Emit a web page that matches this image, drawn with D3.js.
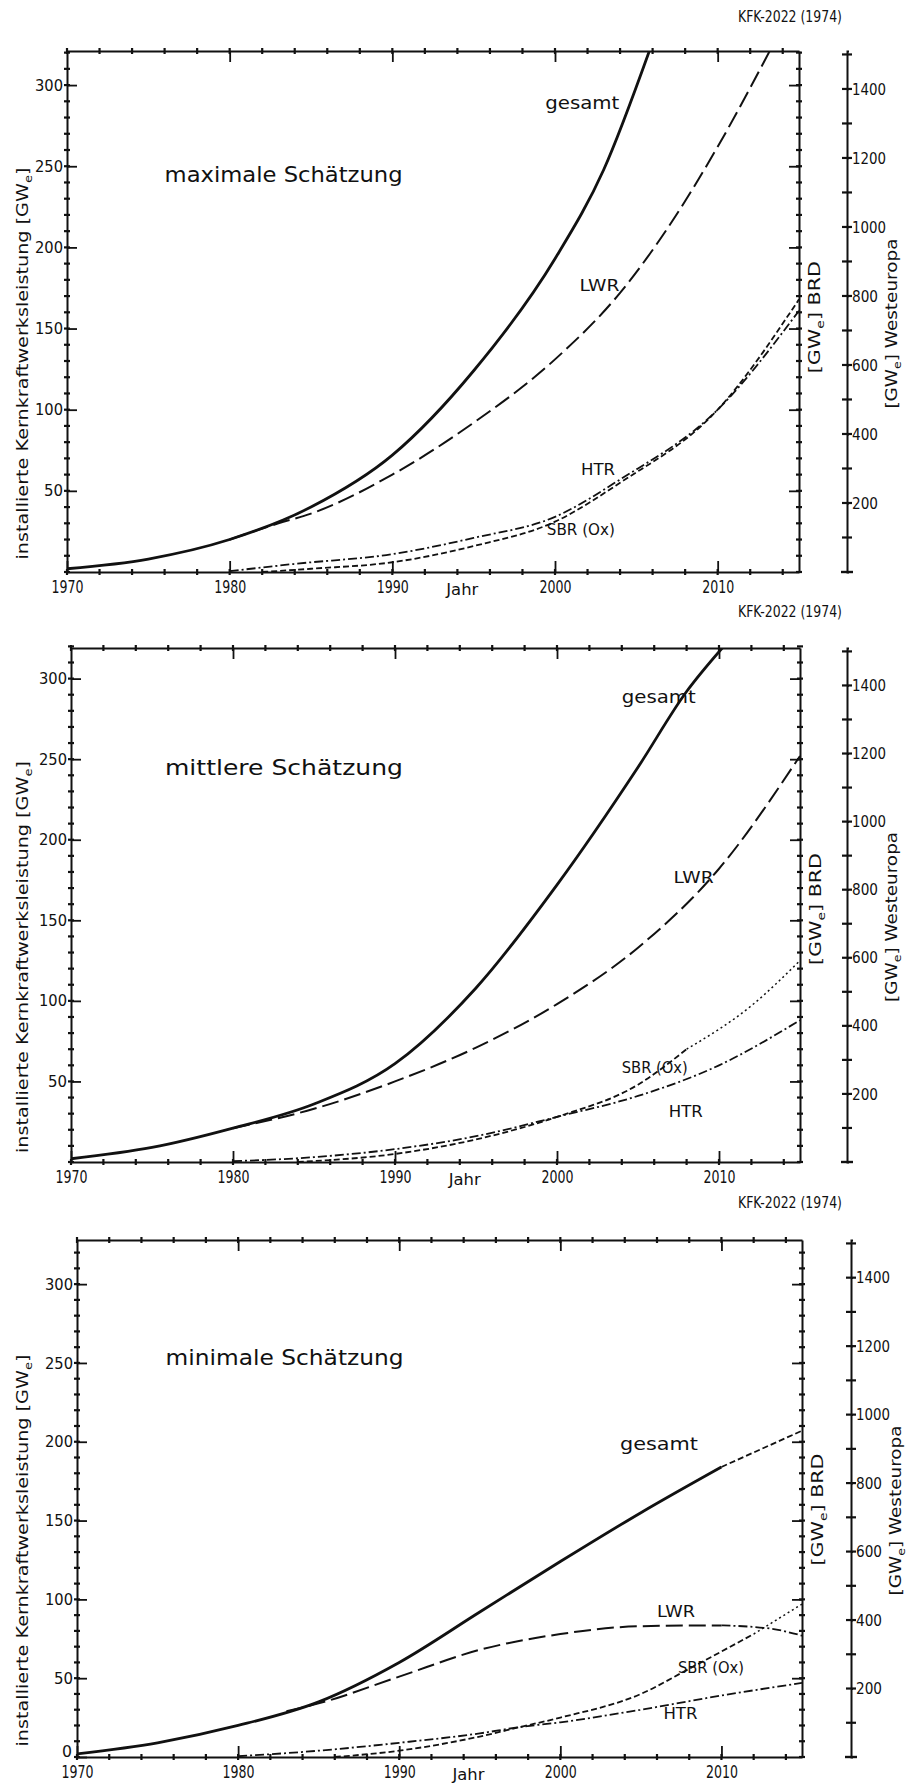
<!DOCTYPE html>
<html>
<head>
<meta charset="utf-8">
<script src="https://cdn.jsdelivr.net/npm/d3@7"></script>
<style>
  body { margin: 0; background: #fff; }
  svg text { fill: #111; font-family: "DejaVu Sans", sans-serif; }
  .domain { stroke: #111; stroke-width: 2; }
  .tick line { stroke: #111; stroke-width: 1.8; }
</style>
</head>
<body>
<div id="chart"></div>
<script>
// ticks
const yearTicks = [1970, 1980, 1990, 2000, 2010];
const yearMinor = d3.range(1970, 2016, 2);
const gweTicks = [50, 100, 150, 200, 250, 300];
const gweMinor = d3.range(0, 321, 10);
const westTicks = [200, 400, 600, 800, 1000, 1200, 1400];
const westMinor = d3.range(100, 1501, 100);

// maximale Schätzung  [Jahr, GWe]
const maxGesamt = [[1970, 2], [1975, 8], [1980, 20], [1985, 40], [1990, 72], [1995, 124], [2000, 193], [2003, 248], [2005.8, 321]];
const maxLWR = [[1980, 20], [1983, 30], [1985, 36], [1990, 60], [1995, 92], [2000, 131], [2004, 172], [2007, 213], [2010, 262], [2013.2, 321]];
const maxHTR = [[1980, 0.5], [1984, 5], [1990, 11], [1995, 21], [2000, 34], [2004, 57], [2010, 100], [2015, 161]];
const maxSBR = [[1982, 0], [1985, 2], [1990, 6], [1995, 16], [2000, 31], [2004, 55], [2010, 100], [2015, 168]];

// mittlere Schätzung
const midGesamt = [[1970, 2], [1975, 9], [1980, 21], [1985, 36], [1990, 61], [1995, 108], [2000, 172], [2005, 245], [2008, 292], [2010.2, 319]];
const midLWR = [[1980, 21], [1985, 33], [1990, 50], [1995, 71], [2000, 98], [2005, 133], [2010, 182], [2015, 252]];
const midSBR = [[1984, 0], [1990, 5], [1995, 14], [2000, 28], [2005, 48], [2008, 70]];
const midSBRend = [[2008, 70], [2012, 97], [2015, 125]];
const midHTR = [[1980, 0.5], [1985, 3], [1990, 8], [1995, 16], [2000, 28], [2005, 41], [2010, 60], [2015, 88]];

// minimale Schätzung
const minGesamt = [[1970, 2], [1975, 9], [1980, 20], [1985, 35], [1990, 60], [1995, 92], [2000, 124], [2005, 155], [2010, 184]];
const minGesamtEnd = [[2010, 184], [2015, 207]];
const minLWR = [[1983, 29], [1985, 34], [1990, 51], [1995, 68], [2000, 78], [2005, 83], [2010, 83.5]];
const minLWRend = [[2010, 83.5], [2013, 81.5], [2015, 77]];
const minSBR = [[1986, 0], [1990, 4], [1995, 13], [1997.5, 19], [2000, 25], [2005, 40], [2008, 56], [2012, 78]];
const minSBRend = [[2012, 78], [2015, 97]];
const minHTR = [[1980, 0.5], [1985, 4], [1990, 9], [1995, 15], [1997.5, 19], [2000, 22], [2005, 30], [2010, 39], [2015, 47]];

const SOLID = null, LONG = "17,6", SHORT = "6,3", DASHDOT = "9,3,2,3", DOT = "2,3";

const panels = [
  { top: 51, bottom: 572, left: 67, right: 799, yMax: 321, rx: 847, head: 22,
    title: "maximale Schätzung", titleAt: [1976, 240], zero: false,
    series: [[maxGesamt, SOLID, 2.8], [maxLWR, LONG, 2], [maxHTR, DASHDOT, 1.8], [maxSBR, SHORT, 1.8]],
    labels: [["gesamt", 1999.4, 285, 18, 74], ["LWR", 2001.5, 173, 16, 40], ["HTR", 2001.6, 60, 16, 34], ["SBR (Ox)", 1999.5, 23, 16, 68]] },
  { top: 648, bottom: 1162, left: 71, right: 800, yMax: 319, rx: 847, head: 617,
    title: "mittlere Schätzung", titleAt: [1975.8, 240], zero: false,
    series: [[midGesamt, SOLID, 2.8], [midLWR, LONG, 2], [midSBR, SHORT, 1.8], [midSBRend, DOT, 1.5], [midHTR, DASHDOT, 1.8]],
    labels: [["gesamt", 2004.0, 285, 18, 74], ["LWR", 2007.2, 173, 16, 40], ["SBR (Ox)", 2004.0, 55, 16, 66], ["HTR", 2006.9, 28, 16, 34]] },
  { top: 1240, bottom: 1757, left: 77, right: 802, yMax: 328, rx: 851, head: 1208,
    title: "minimale Schätzung", titleAt: [1975.5, 249], zero: true,
    series: [[minGesamt, SOLID, 2.8], [minGesamtEnd, SHORT, 1.8], [minLWR, LONG, 2], [minLWRend, DASHDOT, 1.8],
             [minSBR, SHORT, 1.8], [minSBRend, DOT, 1.5], [minHTR, DASHDOT, 1.8]],
    labels: [["gesamt", 2003.7, 195, 18, 78], ["LWR", 2006.0, 89, 16, 38], ["SBR (Ox)", 2007.3, 53, 16, 66], ["HTR", 2006.4, 24, 16, 34]] }
];

const svg = d3.select("#chart").append("svg")
  .attr("width", 911).attr("height", 1784);

function crosses(g, scale, vals, orient, pos, len) {
  // small cross marks along an axis line
  g.append("g").selectAll("line").data(vals).join("line")
    .attr("x1", d => orient == "h" ? scale(d) : pos - len)
    .attr("x2", d => orient == "h" ? scale(d) : pos + len)
    .attr("y1", d => orient == "h" ? pos - len : scale(d))
    .attr("y2", d => orient == "h" ? pos + len : scale(d))
    .attr("stroke", "#111").attr("stroke-width", 2.2);
}

function subE(t, before, after, size) {
  t.append("tspan").text(before);
  t.append("tspan").attr("font-size", size * 0.68).attr("dy", 4).text("e");
  t.append("tspan").attr("dy", -4).text(after);
}

panels.forEach((p, i) => {
  const g = svg.append("g");
  const x = d3.scaleLinear().domain([1970, 2015]).range([p.left, p.right]);
  const y = d3.scaleLinear().domain([0, p.yMax]).range([p.bottom, p.top]);
  const yR = d3.scaleLinear().domain([0, 1510]).range([p.bottom, p.top]);

  g.append("text").attr("x", 842).attr("y", p.head).attr("text-anchor", "end")
    .attr("font-size", 15).attr("textLength", 104).attr("lengthAdjust", "spacingAndGlyphs")
    .text("KFK-2022 (1974)");

  // bottom axis
  g.append("g").attr("transform", `translate(0,${p.bottom})`)
    .call(d3.axisBottom(x).tickValues(yearTicks).tickSizeInner(-11).tickSizeOuter(0).tickPadding(9).tickFormat(d3.format("d")))
    .call(a => a.selectAll("text").attr("font-size", 17).attr("textLength", 32).attr("lengthAdjust", "spacingAndGlyphs"));
  crosses(g, x, yearMinor, "h", p.bottom, 3);
  g.append("text").attr("x", x(1994.3)).attr("y", p.bottom + 23).attr("text-anchor", "middle")
    .attr("font-size", 16).attr("textLength", 32).attr("lengthAdjust", "spacingAndGlyphs").text("Jahr");

  // top axis
  g.append("g").attr("transform", `translate(0,${p.top})`)
    .call(d3.axisTop(x).tickValues(yearTicks.slice(1)).tickSizeInner(-11).tickSizeOuter(0).tickFormat(""));
  crosses(g, x, yearMinor, "h", p.top, 3);

  // left axis
  const lt = p.zero ? [0].concat(gweTicks) : gweTicks;
  g.append("g").attr("transform", `translate(${p.left},0)`)
    .call(d3.axisLeft(y).tickValues(lt).tickSizeInner(-10).tickSizeOuter(0).tickPadding(4))
    .call(a => a.selectAll("text").attr("font-size", 16).attr("textLength", d => d < 100 ? (d ? 19 : 10) : 28)
      .attr("lengthAdjust", "spacingAndGlyphs"))
    .call(a => a.selectAll(".tick text").filter(d => d === 0).attr("dy", "-0.05em").attr("x", -5));
  crosses(g, y, gweMinor, "v", p.left, 3);

  // right border
  g.append("g").attr("transform", `translate(${p.right},0)`)
    .call(d3.axisRight(y).tickValues(gweTicks).tickSizeInner(-10).tickSizeOuter(0).tickFormat(""));
  crosses(g, y, gweMinor, "v", p.right, 3);

  // Westeuropa axis
  g.append("g").attr("transform", `translate(${p.rx},0)`)
    .call(d3.axisRight(yR).tickValues(westTicks).tickSize(2).tickPadding(3).tickFormat(d3.format("d")))
    .call(a => a.selectAll("text").attr("font-size", 16).attr("textLength", d => d < 1000 ? 26 : 34)
      .attr("lengthAdjust", "spacingAndGlyphs"));
  crosses(g, yR, westMinor, "v", p.rx, 5);
  g.append("line").attr("x1", p.rx - 6).attr("x2", p.rx + 6)
    .attr("y1", yR(0)).attr("y2", yR(0)).attr("stroke", "#111").attr("stroke-width", 2.4);

  // axis titles
  const midY = (p.top + p.bottom) / 2 + 52;
  const lt1 = g.append("text").attr("transform", `translate(28,${midY}) rotate(-90)`)
    .attr("text-anchor", "middle").attr("font-size", 16)
    .attr("textLength", 392).attr("lengthAdjust", "spacingAndGlyphs");
  subE(lt1, "installierte Kernkraftwerksleistung [GW", "]", 16);

  const rt1 = g.append("text").attr("transform", `translate(${p.right + 21},${y(157)}) rotate(-90)`)
    .attr("text-anchor", "middle").attr("font-size", 16)
    .attr("textLength", 112).attr("lengthAdjust", "spacingAndGlyphs");
  subE(rt1, "[GW", "]    BRD", 16);

  const rt2 = g.append("text").attr("transform", `translate(${p.rx + 50},${yR(720)}) rotate(-90)`)
    .attr("text-anchor", "middle").attr("font-size", 16)
    .attr("textLength", 170).attr("lengthAdjust", "spacingAndGlyphs");
  subE(rt2, "[GW", "]   Westeuropa", 16);

  // curves
  const clipId = "clip" + i;
  g.append("clipPath").attr("id", clipId).append("rect")
    .attr("x", p.left).attr("y", p.top).attr("width", p.right - p.left).attr("height", p.bottom - p.top);
  const line = d3.line().curve(d3.curveMonotoneX).x(d => x(d[0])).y(d => y(d[1]));
  g.append("g").attr("clip-path", `url(#${clipId})`)
    .selectAll("path").data(p.series).join("path")
    .attr("d", d => line(d[0]))
    .attr("fill", "none").attr("stroke", "#111")
    .attr("stroke-width", d => d[2])
    .attr("stroke-dasharray", d => d[1]);

  g.append("text").attr("x", x(p.titleAt[0])).attr("y", y(p.titleAt[1]))
    .attr("font-size", 21).attr("textLength", 238).attr("lengthAdjust", "spacingAndGlyphs").text(p.title);
  g.selectAll(".lbl").data(p.labels).join("text").attr("class", "lbl")
    .attr("x", d => x(d[1])).attr("y", d => y(d[2]))
    .attr("font-size", d => d[3]).attr("textLength", d => d[4]).attr("lengthAdjust", "spacingAndGlyphs")
    .text(d => d[0]);
});
</script>
</body>
</html>
